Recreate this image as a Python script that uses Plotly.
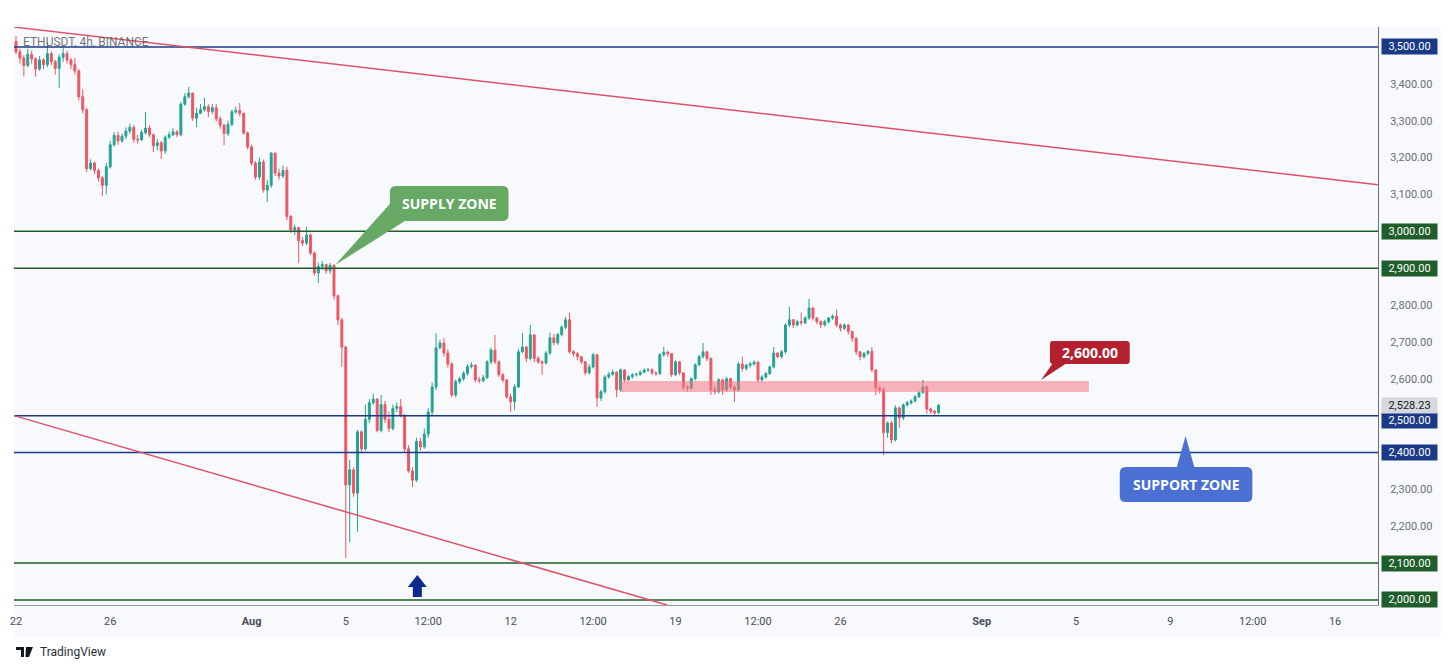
import plotly.graph_objects as go
import pandas as pd

# ---------------- data (ETHUSDT 4h) ----------------
first_open = 3515
close = [
    3487, 3470, 3450, 3480, 3468, 3440,   # Jul 22
    3465, 3452, 3482, 3460, 3442, 3472,   # Jul 23
    3482, 3465, 3452, 3435, 3365, 3330,   # Jul 24
    3170, 3185, 3165, 3145, 3125, 3175,   # Jul 25
    3235, 3260, 3245, 3258, 3272, 3282,   # Jul 26
    3250, 3248, 3268, 3280, 3262, 3232,   # Jul 27
    3240, 3218, 3255, 3262, 3270, 3262,   # Jul 28
    3345, 3365, 3375, 3307, 3320, 3330,   # Jul 29
    3338, 3325, 3335, 3305, 3288, 3265,   # Jul 30
    3290, 3324, 3328, 3320, 3267, 3229,   # Jul 31
    3185, 3147, 3188, 3112, 3125, 3212,   # Aug 1
    3158, 3150, 3165, 3040, 3004, 3010,   # Aug 2
    2975, 2968, 2990, 2941, 2887, 2905,   # Aug 3
    2910, 2893, 2908, 2825, 2760, 2686,   # Aug 4
    2312, 2353, 2290, 2456, 2410, 2490,   # Aug 5
    2535, 2545, 2460, 2530, 2490, 2465,   # Aug 6
    2520, 2525, 2500, 2410, 2350, 2325,   # Aug 7
    2430, 2415, 2450, 2510, 2578, 2684,   # Aug 8
    2697, 2670, 2640, 2556, 2592, 2600,   # Aug 9
    2615, 2633, 2637, 2597, 2595, 2603,   # Aug 10
    2646, 2678, 2646, 2611, 2597, 2551,   # Aug 11
    2538, 2578, 2673, 2686, 2655, 2719,   # Aug 12
    2655, 2646, 2643, 2670, 2711, 2698,   # Aug 13
    2720, 2740, 2760, 2673, 2668, 2660,   # Aug 14
    2646, 2616, 2632, 2665, 2548, 2565,   # Aug 15
    2605, 2612, 2618, 2570, 2624, 2597,   # Aug 16
    2606, 2611, 2612, 2618, 2624, 2625,   # Aug 17
    2616, 2614, 2665, 2672, 2668, 2611,   # Aug 18
    2646, 2616, 2578, 2575, 2600, 2638,   # Aug 19
    2660, 2673, 2655, 2570, 2565, 2597,   # Aug 20
    2570, 2600, 2578, 2570, 2640, 2628,   # Aug 21
    2637, 2640, 2645, 2597, 2605, 2614,   # Aug 22
    2632, 2670, 2660, 2673, 2746, 2760,   # Aug 23
    2746, 2755, 2752, 2765, 2792, 2765,   # Aug 24
    2755, 2746, 2755, 2765, 2770, 2746,   # Aug 25
    2737, 2746, 2728, 2710, 2673, 2660,   # Aug 26
    2669, 2674, 2624, 2575, 2570, 2454,   # Aug 27
    2480, 2434, 2521, 2494, 2529, 2535,   # Aug 28
    2540, 2551, 2562, 2578, 2518, 2512,   # Aug 29
    2508, 2528,                           # Aug 30
]
high = [
    3530, 3495, 3478, 3495, 3490, 3472,
    3475, 3470, 3514, 3488, 3465, 3480,
    3500, 3490, 3470, 3470, 3440, 3385,
    3335, 3195, 3190, 3170, 3150, 3185,
    3245, 3268, 3270, 3265, 3282, 3292,
    3288, 3262, 3275, 3324, 3288, 3265,
    3250, 3245, 3260, 3270, 3280, 3275,
    3350, 3375, 3392, 3375, 3335, 3345,
    3362, 3345, 3345, 3345, 3312, 3292,
    3300, 3330, 3338, 3348, 3322, 3270,
    3235, 3190, 3200, 3195, 3140, 3215,
    3214, 3170, 3178, 3175, 3045, 3018,
    3012, 2985, 3012, 2995, 2945, 2915,
    2920, 2912, 2914, 2910, 2828, 2765,
    2690, 2380, 2360, 2462, 2460, 2530,
    2545, 2560, 2548, 2556, 2540, 2510,
    2530, 2535, 2545, 2505, 2420, 2360,
    2440, 2440, 2465, 2520, 2590, 2724,
    2705, 2710, 2680, 2645, 2598, 2605,
    2620, 2640, 2645, 2640, 2605, 2610,
    2650, 2685, 2719, 2650, 2615, 2600,
    2560, 2585, 2680, 2724, 2690, 2746,
    2722, 2662, 2650, 2675, 2725, 2722,
    2725, 2745, 2768, 2779, 2678, 2672,
    2662, 2648, 2640, 2670, 2668, 2570,
    2610, 2618, 2625, 2620, 2628, 2626,
    2610, 2615, 2616, 2622, 2628, 2630,
    2628, 2620, 2670, 2686, 2676, 2670,
    2650, 2648, 2618, 2582, 2604, 2642,
    2665, 2697, 2676, 2658, 2580, 2602,
    2600, 2605, 2603, 2582, 2645, 2660,
    2640, 2645, 2650, 2648, 2610, 2618,
    2636, 2686, 2672, 2678, 2750, 2795,
    2762, 2760, 2780, 2770, 2817, 2795,
    2768, 2758, 2760, 2768, 2775, 2788,
    2750, 2750, 2748, 2730, 2712, 2676,
    2672, 2678, 2686, 2626, 2580, 2578,
    2484, 2486, 2528, 2524, 2533, 2540,
    2544, 2555, 2566, 2597, 2582, 2522,
    2516, 2532,
]
low = [
    3480, 3455, 3420, 3445, 3455, 3419,
    3435, 3440, 3445, 3450, 3425, 3389,
    3460, 3455, 3440, 3425, 3355, 3320,
    3160, 3165, 3155, 3135, 3095, 3100,
    3170, 3230, 3235, 3240, 3250, 3265,
    3240, 3238, 3245, 3262, 3255, 3215,
    3220, 3196, 3210, 3250, 3258, 3255,
    3258, 3340, 3360, 3300, 3283, 3318,
    3325, 3310, 3318, 3298, 3278, 3234,
    3258, 3285, 3318, 3312, 3262, 3222,
    3178, 3140, 3140, 3105, 3080, 3118,
    3150, 3140, 3145, 3030, 2995, 2990,
    2914, 2960, 2962, 2935, 2880, 2860,
    2895, 2885, 2885, 2815, 2745, 2632,
    2114, 2157, 2280, 2185, 2400, 2405,
    2480, 2530, 2455, 2455, 2480, 2455,
    2460, 2510, 2495, 2400, 2345, 2307,
    2320, 2405, 2410, 2440, 2500, 2570,
    2680, 2660, 2630, 2550, 2550, 2585,
    2595, 2608, 2628, 2590, 2588, 2590,
    2600, 2640, 2640, 2605, 2590, 2545,
    2510, 2515, 2575, 2670, 2645, 2650,
    2645, 2640, 2611, 2638, 2665, 2690,
    2692, 2715, 2735, 2668, 2660, 2650,
    2640, 2610, 2612, 2628, 2524, 2540,
    2560, 2600, 2608, 2550, 2565, 2590,
    2594, 2600, 2606, 2608, 2614, 2618,
    2610, 2608, 2610, 2660, 2660, 2605,
    2608, 2610, 2570, 2565, 2570, 2596,
    2634, 2655, 2648, 2556, 2558, 2560,
    2556, 2565, 2572, 2537, 2565, 2620,
    2622, 2630, 2636, 2590, 2592, 2600,
    2610, 2628, 2655, 2655, 2668, 2740,
    2738, 2742, 2745, 2748, 2760, 2758,
    2748, 2738, 2742, 2750, 2760, 2740,
    2728, 2732, 2720, 2700, 2665, 2650,
    2655, 2664, 2618, 2556, 2560, 2393,
    2440, 2425, 2430, 2467, 2488, 2525,
    2530, 2535, 2548, 2560, 2505, 2505,
    2500, 2505,
]
blue_levels = [3500, 2500, 2400]
green_levels = [3000, 2900, 2100, 2000]
plain_ticks = [2200, 2300, 2600, 2700, 2800, 3100, 3200, 3300, 3400]
last_price = 2528.23
zone_low, zone_high = 2564, 2594
upper_trend = (3554, 3126)     # price at left edge / right edge
lower_trend = (2500, 1986.4)   # price at left edge / where it leaves the pane
x_tick_vals = ["2024-07-22", "2024-07-26", "2024-08-01", "2024-08-05",
               "2024-08-08 12:00", "2024-08-12", "2024-08-15 12:00", "2024-08-19",
               "2024-08-22 12:00", "2024-08-26", "2024-09-01", "2024-09-05",
               "2024-09-09", "2024-09-12 12:00", "2024-09-16"]
x_tick_text = ["22", "26", "<b>Aug</b>", "5", "12:00", "12", "12:00", "19",
               "12:00", "26", "<b>Sep</b>", "5", "9", "12:00", "16"]

# ---------------- build ----------------
times = pd.date_range("2024-07-22 00:00", periods=len(close), freq="4h")
opens = [first_open] + close[:-1]
highs = [max(h, o, c) for h, o, c in zip(high, opens, close)]
lows = [min(l, o, c) for l, o, c in zip(low, opens, close)]

W, H = 1451, 669
L, R, T, B = 10, 1378, 27, 605
PX_PER_DAY = 23.625
t0 = pd.Timestamp("2024-07-22")
x_left = t0 + pd.Timedelta(days=(L - 12) / PX_PER_DAY)
x_right = t0 + pd.Timedelta(days=(R - 12) / PX_PER_DAY)
y_lo, y_hi = 1986.4, 3554.2


def fx(x):
    return (x - L) / (R - L)


def fy(y):
    return (B - y) / (B - T)


def P(x, y):
    return f"{fx(x):.5f},{fy(y):.5f}"


def rrect(x0, y0, x1, y1, r):
    return (f"M{P(x0 + r, y0)} L{P(x1 - r, y0)} Q{P(x1, y0)} {P(x1, y0 + r)} "
            f"L{P(x1, y1 - r)} Q{P(x1, y1)} {P(x1 - r, y1)} L{P(x0 + r, y1)} "
            f"Q{P(x0, y1)} {P(x0, y1 - r)} L{P(x0, y0 + r)} Q{P(x0, y0)} {P(x0 + r, y0)} Z")


def poly(pts):
    return "M" + " L".join(P(x, y) for x, y in pts) + " Z"


UP = "#22a393"
DOWN = "#ee5563"
NAVY = "#1a3a85"
GREEN = "#1f5e2b"
TREND = "#e0506a"
BG = "#f8f9fc"

fig = go.Figure()
fig.add_trace(go.Candlestick(
    x=times, open=opens, high=highs, low=lows, close=close,
    increasing=dict(line=dict(color=UP, width=1), fillcolor=UP),
    decreasing=dict(line=dict(color=DOWN, width=1), fillcolor=DOWN),
    whiskerwidth=0, showlegend=False, hoverinfo="skip"))

shapes = []
# widget background
shapes.append(dict(type="rect", xref="paper", yref="paper", x0=fx(L), x1=fx(1441),
                   y0=fy(637), y1=fy(T), fillcolor=BG, line=dict(width=0), layer="below"))
for lv in blue_levels:
    shapes.append(dict(type="line", xref="paper", yref="y", x0=0, x1=1, y0=lv, y1=lv,
                       line=dict(color=NAVY, width=1.5)))
for lv in green_levels:
    shapes.append(dict(type="line", xref="paper", yref="y", x0=0, x1=1, y0=lv, y1=lv,
                       line=dict(color=GREEN, width=1.5)))
# trend lines
shapes.append(dict(type="line", xref="paper", yref="y", x0=0, x1=1,
                   y0=upper_trend[0], y1=upper_trend[1], line=dict(color=TREND, width=1.5)))
shapes.append(dict(type="line", xref="paper", yref="y", x0=0, x1=fx(665),
                   y0=lower_trend[0], y1=lower_trend[1], line=dict(color=TREND, width=1.5)))
# resistance zone
shapes.append(dict(type="rect", xref="paper", yref="y", x0=fx(618), x1=fx(1088),
                   y0=zone_low, y1=zone_high, fillcolor="rgba(242,120,132,0.55)",
                   line=dict(width=0)))
# callouts
SUP_G = "#68a865"
shapes.append(dict(type="path", xref="paper", yref="paper", path=rrect(387, 186, 506, 221, 6),
                   fillcolor=SUP_G, line=dict(width=0)))
shapes.append(dict(type="path", xref="paper", yref="paper",
                   path=poly([(387, 204), (402, 221), (332, 265)]),
                   fillcolor=SUP_G, line=dict(width=0)))
RED_B = "#b5202e"
shapes.append(dict(type="path", xref="paper", yref="paper", path=rrect(1049, 341, 1129, 364, 3),
                   fillcolor=RED_B, line=dict(width=0)))
shapes.append(dict(type="path", xref="paper", yref="paper",
                   path=poly([(1052, 363), (1066, 363), (1040, 380)]),
                   fillcolor=RED_B, line=dict(width=0)))
BLUE_B = "#4b70d3"
shapes.append(dict(type="path", xref="paper", yref="paper", path=rrect(1119, 467, 1252, 502, 6),
                   fillcolor=BLUE_B, line=dict(width=0)))
shapes.append(dict(type="path", xref="paper", yref="paper",
                   path=poly([(1176, 468), (1194, 468), (1185, 436)]),
                   fillcolor=BLUE_B, line=dict(width=0)))
# blue up arrow
ARROW = "#0c2a90"
shapes.append(dict(type="path", xref="paper", yref="paper",
                   path=poly([(405, 587), (410, 587), (410, 597), (419, 597), (419, 587),
                              (424, 587), (414.5, 575)]),
                   fillcolor=ARROW, line=dict(width=0)))
# TradingView logo glyph
shapes.append(dict(type="path", xref="paper", yref="paper",
                   path=poly([(12, 647), (20, 647), (20, 657), (17, 657), (17, 650), (12, 650)]),
                   fillcolor="#131722", line=dict(width=0)))
shapes.append(dict(type="path", xref="paper", yref="paper",
                   path=poly([(22, 647), (29, 647), (25, 657), (21.5, 657)]),
                   fillcolor="#131722", line=dict(width=0)))

ann = []


def label(x, y, text, size, color, anchor="center", family="Open Sans"):
    return dict(xref="paper", yref="paper", x=fx(x), y=fy(y), xanchor=anchor, yanchor="middle",
                text=text, showarrow=False, font=dict(family=family, size=size, color=color))


ann.append(label(17, 42, "ETHUSDT, 4h, BINANCE", 12, "rgba(90,92,100,0.85)", "left", "Roboto"))
ann.append(label(446.5, 203.5, "<b>SUPPLY ZONE</b>", 14, "white"))
ann.append(label(1089, 352.5, "<b>2,600.00</b>", 14, "white"))
ann.append(label(1185.5, 484.5, "<b>SUPPORT ZONE</b>", 14, "white"))
ann.append(label(34, 652, "TradingView", 12, "#2a2e39", "left", "Roboto"))


def price_box(val, bg, fg, shift=0):
    return dict(xref="paper", yref="y", x=fx(1381), y=val, xanchor="left", yanchor="middle",
                text=f"{val:,.2f}", showarrow=False, bgcolor=bg, width=53, height=13,
                borderpad=1, yshift=shift, align="center",
                font=dict(family="Roboto", size=11, color=fg))


for lv in blue_levels:
    ann.append(price_box(lv, NAVY, "white", -5 if lv == 2500 else 0))
for lv in green_levels:
    ann.append(price_box(lv, GREEN, "white"))
ann.append(price_box(last_price, "#d6d8de", "#131722"))

fig.update_layout(
    width=W, height=H, autosize=False,
    margin=dict(l=L, r=W - R, t=T, b=H - B),
    paper_bgcolor="white", plot_bgcolor=BG,
    shapes=shapes, annotations=ann,
    xaxis=dict(type="date", range=[x_left, x_right], tickvals=x_tick_vals, ticktext=x_tick_text,
               showgrid=False, zeroline=False, showline=True, linecolor="#9a9ca3", linewidth=1,
               ticks="", ticklabelstandoff=6, rangeslider=dict(visible=False), fixedrange=True,
               tickfont=dict(family="Roboto", size=11, color="#4a4d57")),
    yaxis=dict(side="right", range=[y_lo, y_hi], tickvals=plain_ticks,
               ticktext=[f"{v:,.2f}" for v in plain_ticks], showgrid=False, zeroline=False,
               showline=True, linecolor="#6b6e77", linewidth=1, ticks="", ticklabelstandoff=9,
               tickfont=dict(family="Roboto", size=11, color="#6a6d78")),
)

fig.write_html("out.html")
